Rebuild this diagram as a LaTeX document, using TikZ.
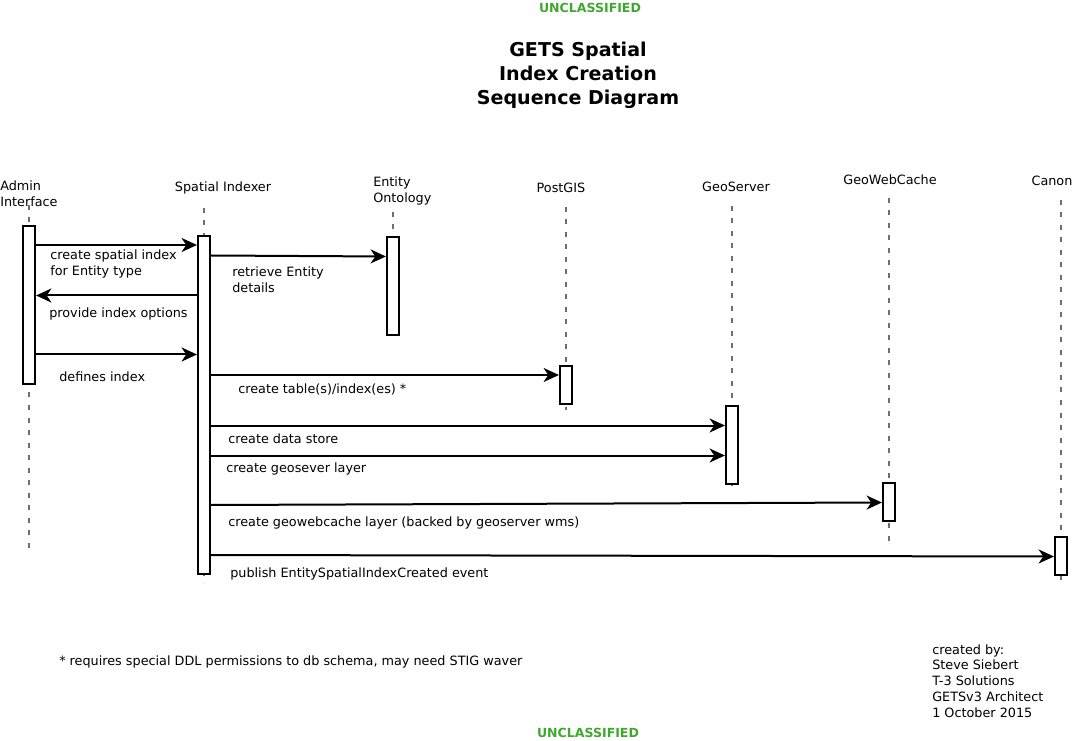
\documentclass[tikz,border=0pt]{standalone}
\usepackage{fontspec}
\setmainfont{DejaVu Sans}
\usetikzlibrary{arrows.meta}
\newdimen\px \px=0.75pt
\definecolor{uncl}{RGB}{64,168,48}
\definecolor{life}{RGB}{110,110,110}
\begin{document}
\begin{tikzpicture}[x=0.75pt,y=-0.75pt,
  lbl/.style={font=\fontsize{9.6pt}{11.8pt}\selectfont, inner sep=0pt, align=left, yshift=-1.5pt},
  ttl/.style={font=\fontsize{14.3pt}{18pt}\selectfont\bfseries, inner sep=0pt, align=center, yshift=-1.2pt},
  ucl/.style={font=\fontsize{9.4pt}{11pt}\selectfont\bfseries, text=uncl, inner sep=0pt, yshift=-0.6pt},
  act/.style={draw=black, fill=white, line width=1.6pt, minimum width=12\px, inner sep=0pt},
  lifeline/.style={draw=life, line width=1.3pt, dash pattern=on 5\px off 7.5\px},
  msg/.style={draw=black, line width=1.5pt, -{Stealth[length=11.5pt,width=10.5pt,inset=3.5pt]}}]
\useasboundingbox (0,0) rectangle (1074,741);

% banners and title
\node[ucl] (ut) at (590,7) {UNCLASSIFIED};
\node[ucl] (ub) at (588,732) {UNCLASSIFIED};
\node[ttl] (title) at (578,74) {GETS Spatial\\ Index Creation\\Sequence Diagram};

% participant labels
\node[lbl, anchor=west] (lAI) at (0,191.5) {Admin\\Interface};
\node[lbl] (lSI) at (223,186) {Spatial Indexer};
\node[lbl, anchor=west] (lEO) at (373,189) {Entity\\Ontology};
\node[lbl] (lPG) at (561,186) {PostGIS};
\node[lbl] (lGS) at (736,185) {GeoServer};
\node[lbl] (lGW) at (890,178) {GeoWebCache};
\node[lbl] (lCA) at (1052,179) {Canon};

% lifeline ends
\coordinate (aiT) at (29,205);  \coordinate (aiB) at (29,548);
\coordinate (siT) at (204,208); \coordinate (siB) at (204,583);
\coordinate (eoT) at (393,212); \coordinate (eoB) at (393,237);
\coordinate (pgT) at (566,207); \coordinate (pgB) at (566,410);
\coordinate (gsT) at (732,206); \coordinate (gsB) at (732,490);
\coordinate (gwT) at (889,198); \coordinate (gwB) at (889,547);
\coordinate (caT) at (1061,200); \coordinate (caB) at (1061,580);
\foreach \a/\b in {aiT/aiB,siT/siB,eoT/eoB,pgT/pgB,gsT/gsB,gwT/gwB,caT/caB}
  \draw[lifeline] (\a) -- (\b);

% activation boxes
\node[act, minimum height=158\px] (ai) at (29,305) {};
\node[act, minimum height=338\px] (si) at (204,405) {};
\node[act, minimum height=98\px] (eo) at (393,286) {};
\node[act, minimum height=38\px] (pg) at (566,385) {};
\node[act, minimum height=78\px] (gs) at (732,445) {};
\node[act, minimum height=38\px] (gw) at (889,502) {};
\node[act, minimum height=38\px] (ca) at (1061,556) {};

% message rows
\coordinate (m1) at (0,245);
\coordinate (m2a) at (0,255.5); \coordinate (m2b) at (0,256.5);
\coordinate (m3) at (0,295.5);
\coordinate (m4) at (0,354.5);
\coordinate (m5) at (0,375);
\coordinate (m6) at (0,425.5);
\coordinate (m7) at (0,455.5);
\coordinate (m8a) at (0,505); \coordinate (m8b) at (0,502.5);
\coordinate (m9a) at (0,555); \coordinate (m9b) at (0,556.5);

\draw[msg] (ai.east |- m1) -- (si.west |- m1);
\draw[msg] (si.east |- m2a) -- (eo.west |- m2b);
\draw[msg] (si.west |- m3) -- (ai.east |- m3);
\draw[msg] (ai.east |- m4) -- (si.west |- m4);
\draw[msg] (si.east |- m5) -- (pg.west |- m5);
\draw[msg] (si.east |- m6) -- (gs.west |- m6);
\draw[msg] (si.east |- m7) -- (gs.west |- m7);
\draw[msg] (si.east |- m8a) -- (gw.west |- m8b);
\draw[msg] (si.east |- m9a) -- (ca.west |- m9b);

% message labels
\node[lbl, anchor=west] (t1) at (50,262) {create spatial index\\for Entity type};
\node[lbl, anchor=west] (t2) at (232,278) {retrieve Entity\\details};
\node[lbl, anchor=west] (t3) at (49,312) {provide index options};
\node[lbl, anchor=west] (t4) at (59,375) {defines index};
\node[lbl, anchor=west] (t5) at (238,387) {create table(s)/index(es) *};
\node[lbl, anchor=west] (t6) at (228,437) {create data store};
\node[lbl, anchor=west] (t7) at (226,467) {create geosever layer};
\node[lbl, anchor=west] (t8) at (228,521) {create geowebcache layer (backed by geoserver wms)};
\node[lbl, anchor=west] (t9) at (230,572) {publish EntitySpatialIndexCreated event};

% notes
\node[lbl, anchor=west] (note) at (59,660) {* requires special DDL permissions to db schema, may need STIG waver};
\node[lbl, anchor=north west, font=\fontsize{9.6pt}{11.85pt}\selectfont, yshift=-0.8pt] (cred) at (932,641)
  {created by:\\Steve Siebert\\T-3 Solutions\\GETSv3 Architect\\1 October 2015};
\end{tikzpicture}
\end{document}
